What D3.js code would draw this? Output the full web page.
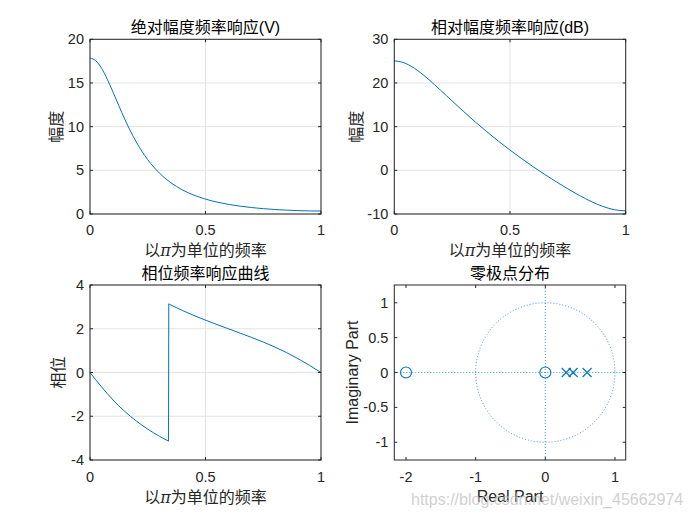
<!DOCTYPE html>
<html><head><meta charset="utf-8">
<script src="https://cdn.jsdelivr.net/npm/d3@7"></script>
<style>body{margin:0;background:#fff}svg{display:block}</style>
</head><body><svg id="c" width="692" height="519"></svg>
<script>
// ---- data ----
const freq = [0,0.025,0.05,0.075,0.1,0.125,0.15,0.175,0.2,0.225,0.25,0.3,0.35,0.4,0.45,0.5,0.55,0.6,0.65,0.7,0.75,0.8,0.85,0.9,0.95,1];
const magV = [17.857,17.549,16.685,15.420,13.934,12.387,10.889,9.504,8.262,7.169,6.220,4.699,3.582,2.763,2.158,1.705,1.363,1.101,0.898,0.738,0.613,0.516,0.441,0.387,0.354,0.343];
const magDB = [25.04,24.89,24.45,23.76,22.88,21.86,20.74,19.56,18.34,17.11,15.88,13.44,11.08,8.83,6.68,4.64,2.69,0.83,-0.94,-2.63,-4.25,-5.75,-7.12,-8.24,-9.01,-9.28];
const phaseFreq = [0,0.025,0.05,0.075,0.1,0.125,0.15,0.175,0.2,0.25,0.3,0.34,0.341,0.35,0.4,0.45,0.5,0.55,0.6,0.65,0.7,0.75,0.8,0.85,0.9,0.95,1];
const phase = [0,-0.333,-0.658,-0.967,-1.258,-1.527,-1.775,-2.004,-2.215,-2.589,-2.912,-3.138,3.139,3.088,2.835,2.606,2.393,2.191,1.995,1.800,1.601,1.392,1.165,0.915,0.636,0.328,0];
const zerosRe = [-2, 0];
const polesRe = [0.3, 0.4, 0.6];
const freqTicks = [0, 0.5, 1];
const magTicks = [0, 5, 10, 15, 20];
const dbTicks = [-10, 0, 10, 20, 30];
const phaseTicks = [-4, -2, 0, 2, 4];
const reTicks = [-2, -1, 0, 1];
const imTicks = [-1, -0.5, 0, 0.5, 1];

// ---- drawing ----
const svg = d3.select("#c");
svg.append("rect").attr("width",692).attr("height",519).attr("fill","#fff");
const BLUE = "#0072BD";
const CJK = "'Noto Sans CJK SC', 'Noto Sans', sans-serif";
const SANS = "'Liberation Sans', Arial, sans-serif";
const AX = "#262626";

function panel(o){
  const g = svg.append("g");
  const xs = d3.scaleLinear().domain(o.xDomain).range([o.x0, o.x1]);
  const ys = d3.scaleLinear().domain(o.yDomain).range([o.y1, o.y0]);
  if (o.grid){
    g.selectAll(null).data(o.xTicks).enter().append("line")
      .attr("x1",d=>xs(d)).attr("x2",d=>xs(d)).attr("y1",o.y0).attr("y2",o.y1)
      .attr("stroke","#e3e3e3").attr("stroke-width",1);
    g.selectAll(null).data(o.yTicks).enter().append("line")
      .attr("y1",d=>ys(d)).attr("y2",d=>ys(d)).attr("x1",o.x0).attr("x2",o.x1)
      .attr("stroke","#e3e3e3").attr("stroke-width",1);
  }
  const plot = g.append("g");
  if (o.draw) o.draw(plot, xs, ys);
  // box
  g.append("rect").attr("x",o.x0).attr("y",o.y0).attr("width",o.x1-o.x0).attr("height",o.y1-o.y0)
    .attr("fill","none").attr("stroke",AX).attr("stroke-width",1);
  const tl = 3;
  o.xTicks.forEach(t=>{
    const x = xs(t);
    g.append("line").attr("x1",x).attr("x2",x).attr("y1",o.y1).attr("y2",o.y1-tl).attr("stroke",AX);
    g.append("line").attr("x1",x).attr("x2",x).attr("y1",o.y0).attr("y2",o.y0+tl).attr("stroke",AX);
    g.append("text").attr("x",x).attr("y",o.y1+o.xTickDy).attr("text-anchor","middle")
      .attr("font-family",SANS).attr("font-size",14.5).attr("fill",AX).text(String(t));
  });
  o.yTicks.forEach(t=>{
    const y = ys(t);
    g.append("line").attr("x1",o.x0).attr("x2",o.x0+tl).attr("y1",y).attr("y2",y).attr("stroke",AX);
    g.append("line").attr("x1",o.x1).attr("x2",o.x1-tl).attr("y1",y).attr("y2",y).attr("stroke",AX);
    g.append("text").attr("x",o.x0-6).attr("y",y+5).attr("text-anchor","end")
      .attr("font-family",SANS).attr("font-size",14.5).attr("fill",AX).text(String(t));
  });
  // title
  const tt = g.append("text").attr("x",(o.x0+o.x1)/2).attr("y",o.titleY).attr("text-anchor","middle")
    .attr("font-family",CJK).attr("font-size",16).attr("fill","#000");
  o.title.forEach(p=>tt.append("tspan").attr("font-family",p.f||CJK).text(p.t));
  // xlabel
  const xl = g.append("text").attr("x",(o.x0+o.x1)/2).attr("y",o.xlabelY).attr("text-anchor","middle")
    .attr("font-family",CJK).attr("font-size",16).attr("fill",AX);
  o.xlabel.forEach(p=>{const s=xl.append("tspan").attr("font-family",p.f||CJK).text(p.t); if(p.i) s.attr("font-style","italic");});
  // ylabel
  g.append("text").attr("transform",`translate(${o.ylabelX},${(o.y0+o.y1)/2}) rotate(-90)`)
    .attr("text-anchor","middle").attr("dominant-baseline","central")
    .attr("font-family",o.ylabelFont||CJK).attr("font-size",16).attr("fill",AX).text(o.ylabel);
  return {xs, ys};
}

const freqLabel = [{t:"以"},{t:"π",f:"'DejaVu Serif', serif",i:true},{t:"为单位的频率"}];

function curve(plot, xs, ys, xv, yv){
  const pts = xv.map((x,i)=>[x, yv[i]]);
  plot.append("path").datum(pts)
    .attr("d", d3.line().x(d=>xs(d[0])).y(d=>ys(d[1])).curve(d3.curveMonotoneX))
    .attr("fill","none").attr("stroke",BLUE).attr("stroke-width",1);
}

panel({x0:90,x1:321,y0:39.3,y1:214,xDomain:[0,1],yDomain:[0,20],xTicks:freqTicks,yTicks:magTicks,grid:true,
  title:[{t:"绝对幅度频率响应"},{t:"(V)",f:SANS}],titleY:33,xlabel:freqLabel,xlabelY:256,xTickDy:21,
  ylabel:"幅度",ylabelX:55,
  draw:(p,xs,ys)=>curve(p,xs,ys,freq,magV)});

panel({x0:394.3,x1:625.7,y0:39.3,y1:214,xDomain:[0,1],yDomain:[-10,30],xTicks:freqTicks,yTicks:dbTicks,grid:true,
  title:[{t:"相对幅度频率响应"},{t:"(dB)",f:SANS}],titleY:33,xlabel:freqLabel,xlabelY:256,xTickDy:21,
  ylabel:"幅度",ylabelX:355,
  draw:(p,xs,ys)=>curve(p,xs,ys,freq,magDB)});

panel({x0:90,x1:321,y0:285,y1:460,xDomain:[0,1],yDomain:[-4,4],xTicks:freqTicks,yTicks:phaseTicks,grid:true,
  title:[{t:"相位频率响应曲线"}],titleY:279,xlabel:freqLabel,xlabelY:503,xTickDy:22,
  ylabel:"相位",ylabelX:57,
  draw:(p,xs,ys)=>{
    let k = 1;
    for (let i=1;i<phase.length;i++){ if (Math.abs(phase[i]-phase[i-1])>Math.PI){k=i;break;} }
    curve(p,xs,ys,phaseFreq.slice(0,k),phase.slice(0,k));
    curve(p,xs,ys,phaseFreq.slice(k),phase.slice(k));
    p.append("line").attr("x1",xs(phaseFreq[k-1])).attr("y1",ys(phase[k-1]))
      .attr("x2",xs(phaseFreq[k])).attr("y2",ys(phase[k])).attr("stroke",BLUE).attr("stroke-width",1);
  }});

panel({x0:394.3,x1:625.7,y0:285,y1:460,xDomain:[-2.168,1.154],yDomain:[-1.255,1.255],xTicks:reTicks,yTicks:imTicks,grid:false,
  title:[{t:"零极点分布"}],titleY:279,xlabel:[{t:"Real Part",f:SANS}],xlabelY:502,xTickDy:22,
  ylabel:"Imaginary Part",ylabelX:352,ylabelFont:SANS,
  draw:(p,xs,ys)=>{
    const dot = {stroke:BLUE,"stroke-width":1,"stroke-dasharray":"1,2","stroke-opacity":0.75,fill:"none"};
    const apply = (s)=>{Object.entries(dot).forEach(([k,v])=>s.attr(k,v)); return s;};
    apply(p.append("line").attr("x1",xs(xs.domain()[0])).attr("x2",xs(xs.domain()[1])).attr("y1",ys(0)).attr("y2",ys(0)));
    apply(p.append("line").attr("y1",ys(ys.domain()[0])).attr("y2",ys(ys.domain()[1])).attr("x1",xs(0)).attr("x2",xs(0)));
    apply(p.append("ellipse").attr("cx",xs(0)).attr("cy",ys(0)).attr("rx",xs(1)-xs(0)).attr("ry",ys(-1)-ys(0)));
    p.selectAll(null).data(zerosRe).enter().append("circle")
      .attr("cx",d=>xs(d)).attr("cy",ys(0)).attr("r",5.5)
      .attr("fill","none").attr("stroke",BLUE).attr("stroke-width",1.1);
    const m = 4.5;
    polesRe.forEach(d=>{
      const cx = xs(d), cy = ys(0);
      p.append("path").attr("d",`M${cx-m},${cy-m}L${cx+m},${cy+m}M${cx-m},${cy+m}L${cx+m},${cy-m}`)
        .attr("stroke",BLUE).attr("stroke-width",1.1).attr("fill","none");
    });
  }});

// watermark (overlaps the x label in the reference image as well)
svg.append("text").attr("x",411).attr("y",505).attr("font-family",SANS).attr("font-size",16)
  .attr("fill","#c4c4c4").attr("fill-opacity",0.8).text("https://blog.csdn.net/weixin_45662974");
</script>
</body></html>
